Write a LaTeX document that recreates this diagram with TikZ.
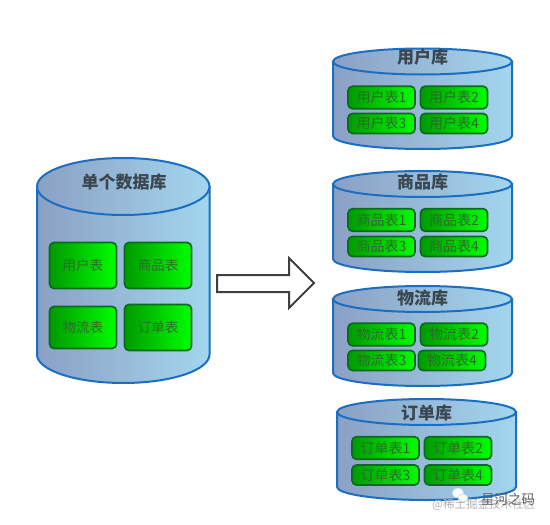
\documentclass[tikz,border=0pt]{standalone}
\usepackage{fontspec}
\setmainfont{Noto Sans CJK SC}
\definecolor{cylL}{HTML}{8AA0C4}
\definecolor{cylR}{HTML}{A3D6EE}
\definecolor{cylLine}{HTML}{1B6EC2}
\definecolor{tabL}{HTML}{009A00}
\definecolor{tabR}{HTML}{00FF00}
\definecolor{tabLine}{HTML}{0A6A1E}
\definecolor{tabText}{HTML}{2C6B2C}
\definecolor{titleText}{HTML}{3A4650}
\tikzset{
  cylshape/.style={draw=cylLine,line width=2pt,left color=cylL,right color=cylR},
  tabbase/.style={draw=tabLine,line width=1.7pt,rounded corners=4.5pt,left color=tabL,right color=tabR,
    text=tabText,inner sep=0pt,anchor=center,align=center},
  tabsmall/.style={tabbase,minimum width=67pt,minimum height=22.5pt,font=\fontsize{14}{15}\selectfont},
  tablow/.style={tabsmall,minimum height=20pt},
  tabbig/.style={tabbase,minimum width=67pt,font=\fontsize{13.5}{15}\selectfont},
  dbtitle/.style={text=titleText,font=\bfseries\fontsize{17}{18}\selectfont,inner sep=0pt},
  blockarrow/.style={draw=black!75,line width=2pt,fill=white,line join=miter},
  wmgray/.style={text=black!30,font=\fontsize{11.5}{13}\selectfont,inner sep=0pt},
  wmdark/.style={text=black!62,font=\fontsize{13.5}{15}\selectfont,inner sep=0pt},
  wmbubble/.style={fill=white,draw=cylR,line width=.5pt}
}
% left, right, top of ellipse, ellipse half height, bottom of cylinder
\newcommand{\dbcyl}[5]{%
  \pgfmathsetmacro{\rx}{(#2-#1)/2}
  \pgfmathsetmacro{\cx}{(#1+#2)/2}
  \pgfmathsetmacro{\cy}{#3+#4}
  \pgfmathsetmacro{\by}{#5-#4}
  \path[cylshape] (#1,\cy) -- (#1,\by) arc[start angle=180,end angle=360,x radius=\rx pt,y radius=#4 pt] -- (#2,\cy) -- cycle;
  \path[cylshape] (\cx,\cy) ellipse[x radius=\rx,y radius=#4];
}
\begin{document}
\begin{tikzpicture}[x=1pt,y=-1pt]
\useasboundingbox (0,0) rectangle (550,525);
\fill[white] (0,0) rectangle (550,525);

% single database
\dbcyl{37}{209.5}{158}{28.5}{383}
\node[dbtitle] (single) at (124,182) {单个数据库};
\node[tabbig,minimum height=46pt] (t1) at (83,265.5) {用户表};
\node[tabbig,minimum height=46pt] (t2) at (158,265.5) {商品表};
\node[tabbig,minimum height=42pt] (t3) at (83,327.5) {物流表};
\node[tabbig,minimum height=46pt] (t4) at (158,327.5) {订单表};

% arrow
\path[blockarrow] (217,275) -- (289,275) -- (289,258) -- (314,283) -- (289,308) -- (289,292) -- (217,292) -- cycle;

% user db
\dbcyl{333}{512}{48.5}{13}{149}
\node[dbtitle] (udb) at (422.5,57) {用户库};
\node[tabsmall] (u1) at (381.5,97.5) {用户表1};
\node[tabsmall] (u2) at (454,97.5) {用户表2};
\node[tablow] (u3) at (381.5,123.5) {用户表3};
\node[tablow] (u4) at (454,123.5) {用户表4};

% goods db
\dbcyl{333}{512}{171}{13}{272}
\node[dbtitle] (gdb) at (422.5,182) {商品库};
\node[tabsmall] (g1) at (381.5,220) {商品表1};
\node[tabsmall] (g2) at (454,220) {商品表2};
\node[tablow] (g3) at (381.5,246.5) {商品表3};
\node[tablow] (g4) at (454,246.5) {商品表4};

% logistics db
\dbcyl{333}{512}{286}{13}{386}
\node[dbtitle] (ldb) at (422.5,298) {物流库};
\node[tabsmall] (l1) at (381.5,334.5) {物流表1};
\node[tabsmall] (l2) at (454,334.5) {物流表2};
\node[tablow] (l3) at (381.5,360.5) {物流表3};
\node[tablow] (l4) at (452,360.5) {物流表4};

% order db
\dbcyl{337}{516}{399}{13}{500}
\node[dbtitle] (odb) at (426.5,413) {订单库};
\node[tabsmall] (o1) at (385.5,448) {订单表1};
\node[tabsmall] (o2) at (458,448) {订单表2};
\node[tablow] (o3) at (385.5,475) {订单表3};
\node[tablow] (o4) at (458,475) {订单表4};

% watermark
\node[wmgray,anchor=west] (wma) at (432,505) {@稀土掘金技术社区};
\fill[wmbubble] (458,493) ellipse[x radius=6,y radius=5];
\fill[wmbubble] (463,498) ellipse[x radius=5,y radius=4];
\node[wmdark,anchor=west] (wmb) at (481,499) {星河之码};
\end{tikzpicture}
\end{document}
